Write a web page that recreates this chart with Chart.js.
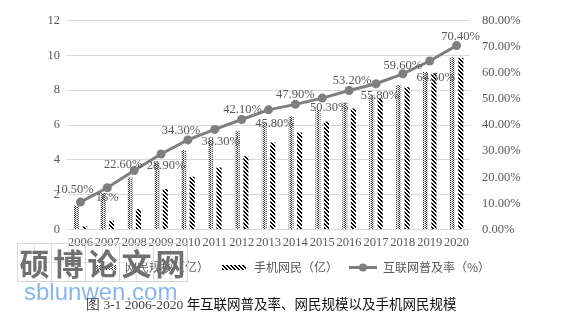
<!DOCTYPE html>
<html>
<head>
<meta charset="utf-8">
<script src="https://cdn.jsdelivr.net/npm/chart.js@4.4.1/dist/chart.umd.min.js"></script>
<style>
  body { margin: 0; background: #fff; }
  #wrap { position: relative; width: 581px; height: 314px; overflow: hidden; }
  #chart { position: absolute; left: 0; top: 0; }
  #mark { position: absolute; left: 17px; top: 243px; display: flex; }
  #mark span {
    width: 35px; height: 39px; box-sizing: border-box;
    border: 1px solid #d8d8d8; margin-right: -1px;
    background:
      linear-gradient(#e4e4e4, #e4e4e4) center / 1px 100% no-repeat,
      linear-gradient(#e4e4e4, #e4e4e4) center / 100% 1px no-repeat;
    font: bold 30px "Noto Sans CJK SC"; color: #707070;
    line-height: 37px; text-align: center;
  }
  #site { position: absolute; left: 24px; top: 278px; font: 24px "Liberation Sans"; color: #8ab6ec; }
  #caption { position: absolute; left: 86px; top: 294px; font-size: 13.5px; line-height: 18px; white-space: nowrap; }
  #caption .a { font-family: "Liberation Serif"; color: #444; }
  #caption .b { font-family: "Noto Sans CJK SC"; color: #111; }
</style>
</head>
<body>
<div id="wrap">
  <canvas id="chart" width="581" height="314"></canvas>
  <div id="mark"><span>硕</span><span>博</span><span>论</span><span>文</span><span>网</span></div>
  <div id="site">sblunwen.com</div>
  <div id="caption"><span class="a">图 3-1 2006-2020 </span><span class="b">年互联网普及率、网民规模以及手机网民规模</span></div>
</div>
<script>
// data
const years = ['2006', '2007', '2008', '2009', '2010', '2011', '2012', '2013', '2014', '2015', '2016', '2017', '2018', '2019', '2020'];
const netUsers = [1.37, 2.10, 2.98, 3.84, 4.57, 5.13, 5.64, 6.18, 6.49, 6.88, 7.31, 7.72, 8.29, 9.04, 9.89];
const mobileUsers = [0.17, 0.50, 1.18, 2.33, 3.03, 3.56, 4.20, 5.00, 5.57, 6.20, 6.95, 7.53, 8.17, 8.97, 9.86];
const rate = [10.5, 16, 22.6, 28.9, 34.3, 38.3, 42.1, 45.8, 47.9, 50.3, 53.2, 55.8, 59.6, 64.5, 70.4];
const seriesNames = ['网民规模（亿）', '手机网民（亿）', '互联网普及率（%）'];

const tickGray = '#595959';
const lineGray = '#7f7f7f';
const serif = '"Liberation Serif", serif';

// label nudges [dx, dy] for the rate labels (as placed in the original)
const labelNudge = [[-6, -12], [0, 10], [-11, -6], [5, 12], [-7, -9], [6, 12], [1, -10], [6, 14],
                    [0, -10], [7, 10], [3, -10], [4, 12], [0, -8], [6, 17], [4, -9]];

// dotted fill for the first bars
function dotPattern(g) {
  const c = document.createElement('canvas');
  c.width = 3; c.height = 2;
  const t = c.getContext('2d');
  t.fillStyle = '#fff'; t.fillRect(0, 0, 3, 2);
  t.fillStyle = '#222'; t.fillRect(0, 0, 1, 1);
  t.fillStyle = '#b0b0b0'; t.fillRect(1, 1, 1, 1);
  t.fillStyle = '#444'; t.fillRect(2, 1, 1, 1);
  return g.createPattern(c, 'repeat');
}

// diagonal black stripes for mobile users
function stripePattern(g) {
  const c = document.createElement('canvas');
  c.width = 4; c.height = 4;
  const t = c.getContext('2d');
  t.fillStyle = '#fff'; t.fillRect(0, 0, 4, 4);
  t.fillStyle = '#000';
  for (let i = 0; i < 4; i++) {
    t.fillRect(i, i, 1, 1);
    t.fillRect((i + 1) % 4, i, 1, 1);
  }
  return g.createPattern(c, 'repeat');
}

function legendIcon(kind) {
  const c = document.createElement('canvas');
  c.width = 28; c.height = 9;
  const g = c.getContext('2d');
  if (kind === 'line') {
    g.strokeStyle = lineGray; g.lineWidth = 3;
    g.beginPath(); g.moveTo(0, 4.5); g.lineTo(28, 4.5); g.stroke();
    g.fillStyle = lineGray;
    g.beginPath(); g.arc(14, 4.5, 4, 0, Math.PI * 2); g.fill();
  } else {
    g.fillStyle = kind === 'dots' ? dotPattern(g) : stripePattern(g);
    g.fillRect(2, 2, 24, 5);
  }
  return c;
}

function fmtRate(v) {
  return Number.isInteger(v) ? v + '%' : v.toFixed(2) + '%';
}

const rateLabels = {
  id: 'rateLabels',
  afterDatasetsDraw(chart) {
    const meta = chart.getDatasetMeta(2);
    const ctx = chart.ctx;
    ctx.save();
    ctx.font = '12.5px ' + serif;
    ctx.fillStyle = tickGray;
    ctx.textAlign = 'center';
    ctx.textBaseline = 'middle';
    meta.data.forEach((pt, i) => {
      const n = labelNudge[i];
      ctx.fillText(fmtRate(rate[i]), pt.x + n[0], pt.y + n[1]);
    });
    ctx.restore();
  }
};

const canvas = document.getElementById('chart');
const ctx = canvas.getContext('2d');
const icons = [legendIcon('dots'), legendIcon('stripes'), legendIcon('line')];

new Chart(ctx, {
  data: {
    labels: years,
    datasets: [
      {
        type: 'bar', label: seriesNames[0], data: netUsers, yAxisID: 'y',
        backgroundColor: dotPattern(ctx), borderWidth: 0,
        categoryPercentage: 0.63, barPercentage: 0.6, order: 2
      },
      {
        type: 'bar', label: seriesNames[1], data: mobileUsers, yAxisID: 'y',
        backgroundColor: stripePattern(ctx), borderWidth: 0,
        categoryPercentage: 0.63, barPercentage: 0.6, order: 2
      },
      {
        type: 'line', label: seriesNames[2], data: rate, yAxisID: 'y1',
        borderColor: lineGray, backgroundColor: lineGray, borderWidth: 3,
        pointRadius: 4.5, pointBackgroundColor: lineGray, pointBorderWidth: 0,
        tension: 0, order: 0
      }
    ]
  },
  options: {
    responsive: false,
    animation: false,
    layout: { padding: { top: 20.5, bottom: 30.5, left: 0, right: 0 } },
    plugins: {
      tooltip: { enabled: false },
      legend: {
        position: 'bottom',
        labels: {
          usePointStyle: true,
          pointStyleWidth: 28,
          padding: 11,
          color: tickGray,
          font: { family: '"Noto Sans CJK SC"', size: 12 },
          generateLabels(chart) {
            return chart.data.datasets.map((ds, i) => ({
              text: ds.label, pointStyle: icons[i], datasetIndex: i,
              fontColor: tickGray, lineWidth: 0, hidden: false
            }));
          }
        }
      }
    },
    scales: {
      x: {
        grid: { display: false, drawTicks: false },
        border: { display: false },
        ticks: { color: tickGray, font: { family: serif, size: 12.5 }, padding: 6, maxRotation: 0, autoSkip: false },
        afterFit(s) { s.height = 21; }
      },
      y: {
        position: 'left', min: 0, max: 12,
        grid: { color: '#d9d9d9', drawTicks: false },
        border: { display: false },
        ticks: { stepSize: 2, color: tickGray, font: { family: serif, size: 12.5 }, padding: 7 },
        afterFit(s) { s.width = 67; }
      },
      y1: {
        position: 'right', min: 0, max: 80,
        grid: { display: false, drawTicks: false },
        border: { display: false },
        ticks: { stepSize: 10, color: tickGray, font: { family: serif, size: 12.5 }, padding: 12,
                 callback: v => v.toFixed(2) + '%' },
        afterFit(s) { s.width = 111; }
      }
    }
  },
  plugins: [rateLabels]
});
</script>
</body>
</html>
